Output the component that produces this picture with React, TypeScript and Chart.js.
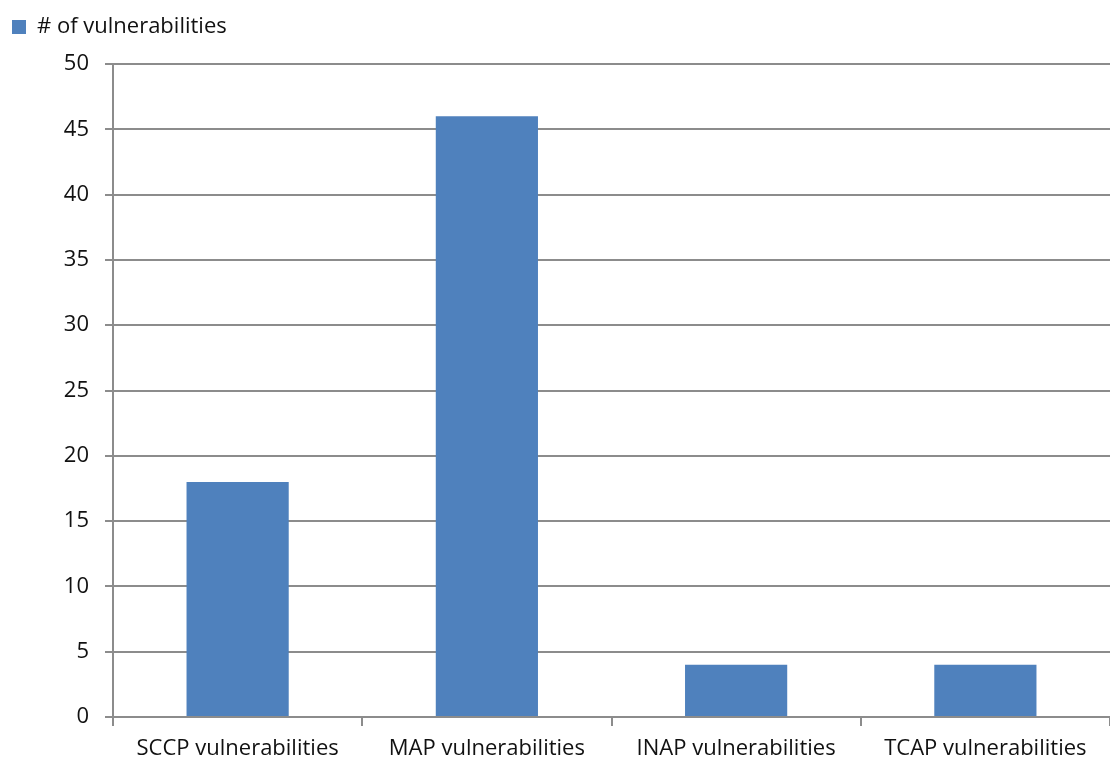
import React, { useEffect, useRef } from "react";
import { Chart, registerables } from "chart.js";

Chart.register(...registerables);

const categories = [
  "SCCP vulnerabilities",
  "MAP vulnerabilities",
  "INAP vulnerabilities",
  "TCAP vulnerabilities",
];
const seriesLabel = "# of vulnerabilities";
const vulnerabilities = [18, 46, 4, 4];
const yMin = 0;
const yMax = 50;
const yStep = 5;

const FONT = "'Open Sans', sans-serif";
const TEXT = "#111111";
const GRID = "#8c8c8c";
const BAR = "#4f81bd";

export default function App() {
  const ref = useRef<HTMLCanvasElement | null>(null);

  useEffect(() => {
    document.body.style.margin = "0";
    if (!ref.current) return;
    const chart = new Chart(ref.current, {
      type: "bar",
      data: {
        labels: categories,
        datasets: [
          {
            label: seriesLabel,
            data: vulnerabilities,
            backgroundColor: BAR,
            borderWidth: 0,
            categoryPercentage: 1,
            barPercentage: 0.41,
          },
        ],
      },
      options: {
        responsive: false,
        animation: false,
        devicePixelRatio: 1,
        layout: { padding: { left: 2, right: 0, top: 6, bottom: 0 } },
        plugins: {
          tooltip: { enabled: false },
          legend: {
            position: "top",
            align: "start",
            labels: {
              boxWidth: 14,
              boxHeight: 14,
              padding: 10,
              color: TEXT,
              font: { family: FONT, size: 22 },
            },
          },
        },
        scales: {
          x: {
            grid: {
              offset: true,
              drawOnChartArea: false,
              drawTicks: true,
              tickLength: 9,
              color: GRID,
              lineWidth: 2,
            },
            border: { color: GRID, width: 2 },
            ticks: {
              color: TEXT,
              padding: 10,
              maxRotation: 0,
              font: { family: FONT, size: 22 },
            },
            afterFit: (s: any) => {
              s.height = 45;
            },
          },
          // invisible spacer between legend and plot area
          spacer: {
            type: "category",
            position: "top",
            display: true,
            grid: { display: false, drawTicks: false },
            border: { display: false },
            ticks: { display: false },
            afterFit: (s: any) => {
              s.height = 16;
            },
          } as any,
          y: {
            min: yMin,
            max: yMax,
            ticks: {
              stepSize: yStep,
              color: TEXT,
              padding: 16,
              font: { family: FONT, size: 22 },
            },
            grid: {
              color: GRID,
              lineWidth: 2,
              tickLength: 8,
            },
            border: { color: GRID, width: 2 },
            afterFit: (s: any) => {
              s.width = 111;
            },
          },
        },
      },
    });
    return () => chart.destroy();
  }, []);

  return (
    <div style={{ position: "fixed", left: 0, top: 0, width: 1110, height: 762, background: "#fff" }}>
      <canvas ref={ref} width={1110} height={762} style={{ width: 1110, height: 762 }} />
    </div>
  );
}
